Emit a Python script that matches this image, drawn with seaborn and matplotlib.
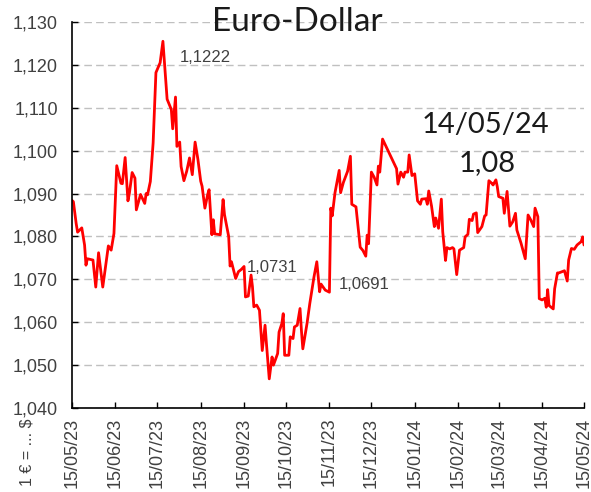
import pandas as pd
import matplotlib
matplotlib.use("Agg")
import matplotlib.pyplot as plt
import matplotlib.dates as mdates
from matplotlib.ticker import FuncFormatter, MultipleLocator
import seaborn as sns

# EUR/USD daily close (day offset from 15/05/23)
start_date = "2023-05-15"
day = [0, 1, 3, 4, 7, 9, 10, 11, 15, 17, 19, 22, 26, 28, 30, 32, 35, 36, 38, 40,
       41, 43, 45, 46, 49, 52, 53, 54, 56, 58, 60, 63, 65, 68, 71, 72, 74, 75, 77, 78,
       80, 82, 84, 86, 88, 90, 92, 93, 95, 97, 98, 100, 101, 102, 106, 108, 109, 112, 113, 114,
       117, 119, 121, 123, 124, 126, 128, 129, 130, 132, 134, 136, 138, 139, 141, 143, 144, 147, 148, 150,
       151, 152, 155, 156, 158, 159, 161, 163, 164, 165, 168, 170, 173, 175, 177, 178, 181, 184, 185, 186,
       188, 191, 192, 194, 197, 199, 200, 203, 206, 208, 210, 211, 212, 214, 216, 218, 219, 220, 222, 232,
       233, 235, 237, 238, 240, 241, 243, 245, 247, 249, 250, 253, 254, 255, 257, 259, 260, 262, 264, 265,
       267, 268, 270, 272, 273, 275, 277, 280, 281, 283, 284, 286, 287, 289, 290, 293, 295, 296, 298, 300,
       301, 303, 304, 305, 308, 309, 311, 313, 315, 317, 318, 321, 324, 326, 328, 330, 331, 333, 334, 336,
       338, 339, 340, 341, 344, 345, 347, 348, 352, 354, 355, 357, 359, 361, 364, 365, 366]
rate = [1.0884, 1.0881, 1.0830, 1.0810, 1.0820, 1.0780, 1.0733, 1.0748, 1.0745, 1.0682,
        1.0762, 1.0682, 1.0778, 1.0768, 1.0807, 1.0965, 1.0924, 1.0923, 1.0984, 1.0883,
        1.0900, 1.0949, 1.0936, 1.0862, 1.0898, 1.0877, 1.0900, 1.0897, 1.0928, 1.1018,
        1.1182, 1.1205, 1.1255, 1.1120, 1.1096, 1.1051, 1.1125, 1.1010, 1.1020, 1.0963,
        1.0930, 1.0952, 1.0983, 1.0944, 1.1020, 1.0980, 1.0929, 1.0917, 1.0866, 1.0898,
        1.0909, 1.0804, 1.0839, 1.0806, 1.0804, 1.0886, 1.0851, 1.0800, 1.0731, 1.0741,
        1.0702, 1.0718, 1.0723, 1.0730, 1.0659, 1.0661, 1.0710, 1.0683, 1.0636, 1.0640,
        1.0628, 1.0534, 1.0593, 1.0550, 1.0468, 1.0519, 1.0500, 1.0527, 1.0577, 1.0597,
        1.0620, 1.0523, 1.0523, 1.0566, 1.0562, 1.0589, 1.0593, 1.0632, 1.0581, 1.0538,
        1.0597, 1.0644, 1.0706, 1.0741, 1.0671, 1.0689, 1.0675, 1.0670, 1.0866, 1.0848,
        1.0902, 1.0954, 1.0902, 1.0926, 1.0952, 1.0987, 1.0875, 1.0869, 1.0775, 1.0767,
        1.0754, 1.0803, 1.0783, 1.0950, 1.0938, 1.0920, 1.0964, 1.0950, 1.1027, 1.0958,
        1.0922, 1.0950, 1.0938, 1.0950, 1.0950, 1.0990, 1.0942, 1.0946, 1.0883, 1.0875,
        1.0887, 1.0888, 1.0875, 1.0906, 1.0871, 1.0823, 1.0843, 1.0819, 1.0887, 1.0811,
        1.0744, 1.0774, 1.0771, 1.0774, 1.0771, 1.0711, 1.0768, 1.0774, 1.0799, 1.0805,
        1.0840, 1.0837, 1.0852, 1.0855, 1.0809, 1.0823, 1.0848, 1.0850, 1.0930, 1.0924,
        1.0920, 1.0932, 1.0916, 1.0893, 1.0889, 1.0854, 1.0905, 1.0824, 1.0834, 1.0854,
        1.0815, 1.0784, 1.0748, 1.0850, 1.0838, 1.0823, 1.0866, 1.0846, 1.0655, 1.0652,
        1.0656, 1.0635, 1.0676, 1.0639, 1.0631, 1.0678, 1.0715, 1.0715, 1.0720, 1.0696,
        1.0745, 1.0772, 1.0770, 1.0780, 1.0788, 1.0799, 1.0780]

# labels written on the chart
note_labels = ["1,1222", "1,0731", "1,0691"]
note_days = [77, 125, 191]
note_vals = [1.1218, 1.0728, 1.0687]
last_date = "14/05/24"
last_value = "1,08"

df = pd.DataFrame({"date": pd.Timestamp(start_date) + pd.to_timedelta(day, unit="D"),
                   "rate": rate})

sns.set_style("white")
plt.rcParams["font.family"] = ["Liberation Sans", "DejaVu Sans"]

fig = plt.figure(figsize=(5.91, 4.92), dpi=100)
ax = fig.add_axes([0.1218, 0.1707, 0.8664, 0.7846])

sns.lineplot(data=df, x="date", y="rate", color="#ff0000", linewidth=2.0, ax=ax)

ax.set_ylim(1.040, 1.130)
ax.set_xlim(pd.Timestamp("2023-05-15"), pd.Timestamp("2024-05-15"))
ax.yaxis.set_major_locator(MultipleLocator(0.01))
ax.yaxis.set_major_formatter(FuncFormatter(lambda v, p: f"{v:.3f}".replace(".", ",")))
ax.xaxis.set_major_locator(mdates.MonthLocator(bymonthday=15))
ax.xaxis.set_major_formatter(mdates.DateFormatter("%d/%m/%y"))
ax.yaxis.grid(True, linestyle=(0, (5.5, 3)), color="#c0c0c0", linewidth=1)
ax.xaxis.grid(False)
ax.set_xlabel("")
ax.set_ylabel("")
sns.despine(ax=ax)
for s in ["left", "bottom"]:
    ax.spines[s].set_color("black")
    ax.spines[s].set_linewidth(1.2)
ax.tick_params(axis="both", direction="in", length=4, width=1, color="black",
               labelsize=13, labelcolor="#404040", left=True, bottom=True)
ax.tick_params(axis="x", rotation=90, pad=7)
ax.tick_params(axis="y", pad=10)

# value labels
for lab, d, v in zip(note_labels, note_days, note_vals):
    ax.text(pd.Timestamp(start_date) + pd.Timedelta(days=d), v, lab,
            fontsize=12, color="#404040", ha="left", va="center")

title_font = ["Lato", "DejaVu Sans"]
fig.text(0.503, 1 - 22 / 492, "Euro-Dollar", fontsize=24, family=title_font,
         color="#1a1a1a", ha="center", va="center")
fig.text(485 / 591, 1 - 125 / 492, last_date, fontsize=21, family=title_font,
         color="#1a1a1a", ha="center", va="center")
fig.text(487 / 591, 1 - 163 / 492, last_value, fontsize=21, family=title_font,
         color="#1a1a1a", ha="center", va="center")
fig.text(27 / 591, 1 - 418 / 492, "1 € = ... $", rotation=90, fontsize=11.5,
         color="#404040", ha="center", va="top")

fig.savefig("out.png", dpi=100)
